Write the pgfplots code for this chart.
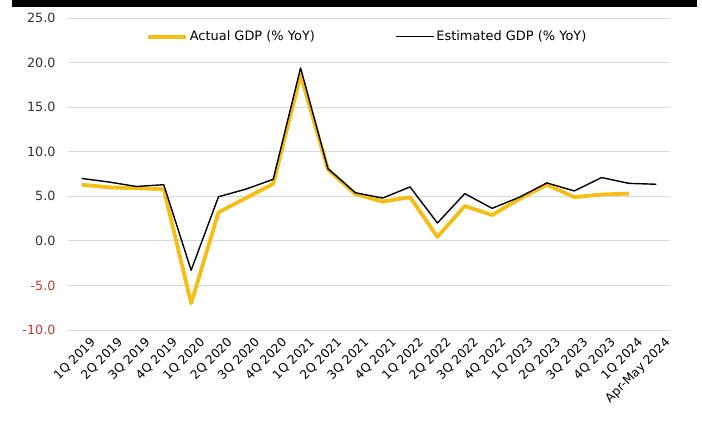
\documentclass[border=0pt]{standalone}
\usepackage{pgfplots}
\pgfplotsset{compat=1.18}
\usepackage{fontspec}
\setmainfont{DejaVu Sans}
\definecolor{gold}{RGB}{245,190,20}
\definecolor{gridgray}{RGB}{217,217,217}
\definecolor{tickgray}{RGB}{50,50,50}
\definecolor{negred}{RGB}{200,55,55}
\begin{document}
\begin{tikzpicture}
\useasboundingbox (-68bp,-99bp) rectangle (634bp,330bp);
\draw[line width=7bp] (-56bp,326.5bp) -- (629bp,326.5bp);
\begin{axis}[at={(0,0)}, anchor=south west, scale only axis,
  width=602bp, height=312bp,
  xmin=-0.5, xmax=21.5, ymin=-10, ymax=25,
  axis line style={draw=none}, tick style={draw=none},
  ymajorgrids, grid style={gridgray, line width=0.8bp},
  xtick={0,...,21},
  xticklabels={1Q 2019,2Q 2019,3Q 2019,4Q 2019,1Q 2020,2Q 2020,3Q 2020,4Q 2020,1Q 2021,2Q 2021,3Q 2021,4Q 2021,1Q 2022,2Q 2022,3Q 2022,4Q 2022,1Q 2023,2Q 2023,3Q 2023,4Q 2023,1Q 2024,Apr-May 2024},
  x tick label style={rotate=45, anchor=north east, font=\fontsize{12.3}{14}\selectfont, text=black, inner sep=1bp, xshift=2bp, yshift=-9bp},
  ytick={-10,-5,0,5,10,15,20,25},
  yticklabels={{\textcolor{negred}{-10.0}},{\textcolor{negred}{-5.0}},0.0,5.0,10.0,15.0,20.0,25.0},
  y tick label style={font=\fontsize{12.8}{14}\selectfont, text=tickgray, xshift=-9bp},
  legend style={at={(0.497,0.94)}, anchor=center, draw=none, fill=none,
    font=\fontsize{13}{15}\selectfont, text=black,
    /tikz/every even column/.append style={column sep=78bp}},
  legend columns=2,
  legend image code/.code={\draw[#1] (0bp,0bp) -- (38bp,0bp);},
]
\addplot[gold, line width=3.8bp, line join=round] coordinates {
(0,6.3) (1,6.0) (2,5.9) (3,5.8) (4,-7.0) (5,3.2) (6,4.8) (7,6.4) (8,18.6) (9,8.0) (10,5.25)
(11,4.4) (12,4.9) (13,0.45) (14,3.9) (15,2.9) (16,4.7) (17,6.3) (18,4.9) (19,5.2) (20,5.3)};
\addlegendentry{Actual GDP (\% YoY)}
\addplot[black, line width=1.4bp, line join=round] coordinates {
(0,7.0) (1,6.6) (2,6.1) (3,6.3) (4,-3.3) (5,4.95) (6,5.8) (7,6.9) (8,19.4) (9,8.1) (10,5.4)
(11,4.8) (12,6.05) (13,2.0) (14,5.3) (15,3.65) (16,4.9) (17,6.5) (18,5.6) (19,7.1) (20,6.45) (21,6.35)};
\addlegendentry{Estimated GDP (\% YoY)}
\end{axis}
\end{tikzpicture}
\end{document}
